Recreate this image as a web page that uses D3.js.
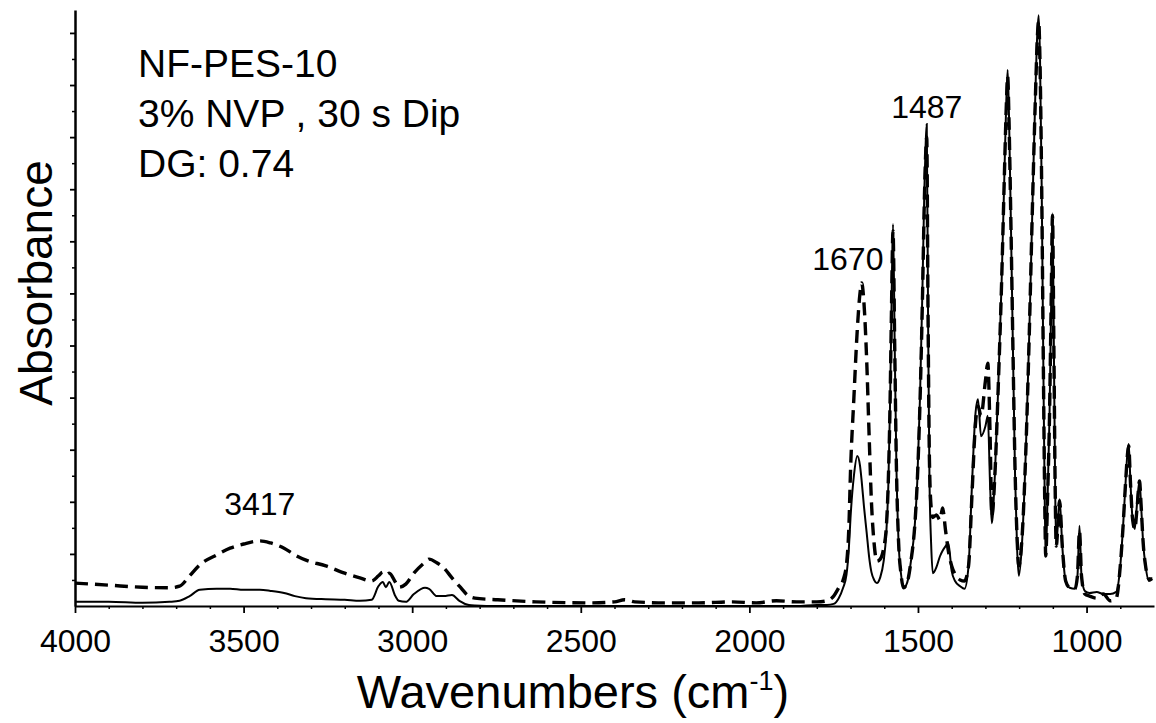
<!DOCTYPE html>
<html>
<head>
<meta charset="utf-8">
<script src="https://cdn.jsdelivr.net/npm/d3@7"></script>
<style>
  body { margin: 0; background: #fff; }
  svg { display: block; }
  text { font-family: "Liberation Sans", Arial, sans-serif; fill: #000; }
</style>
</head>
<body>
<script>
// wavenumbers (cm-1)
var wavenumbers = [
  4000, 3900, 3800, 3720, 3690, 3660, 3630, 3580, 3540, 3500,
  3452, 3420, 3380, 3348, 3315, 3256, 3200, 3155, 3120, 3100,
  3087, 3078, 3068, 3050, 3040, 3019, 2995, 2962, 2950, 2927,
  2906, 2882, 2860, 2832, 2814, 2746, 2633, 2473, 2400, 2370,
  2340, 2250, 2150, 2050, 1980, 1920, 1860, 1800, 1770, 1750,
  1735, 1722, 1712, 1705, 1700, 1690, 1680, 1672, 1667, 1660,
  1652, 1645, 1638, 1630, 1622, 1612, 1602, 1594, 1588, 1583,
  1579, 1574, 1569, 1564, 1558, 1550, 1543, 1532, 1520, 1510,
  1502, 1494, 1487, 1481, 1477, 1474, 1470, 1466, 1461, 1456,
  1445, 1435, 1427, 1418, 1410, 1400, 1390, 1375, 1362, 1350,
  1340, 1330, 1322, 1313, 1300, 1293, 1286, 1281, 1272, 1262,
  1252, 1244, 1238, 1234, 1230, 1224, 1218, 1212, 1206, 1201,
  1192, 1180, 1170, 1160, 1152, 1146, 1142, 1138, 1133, 1128,
  1124, 1121, 1116, 1110, 1105, 1101, 1097, 1093, 1090, 1080,
  1072, 1062, 1050, 1035, 1027, 1021, 1015, 1005, 991, 970,
  950, 930, 912, 900, 892, 884, 878, 875, 870, 864,
  857, 850, 843, 838, 832, 825, 815, 805
];

// solid line (unmodified PES)
var pesAbs = [
  0.008, 0.008, 0.006, 0.008, 0.010, 0.019, 0.031, 0.033, 0.033, 0.031,
  0.031, 0.029, 0.025, 0.019, 0.015, 0.013, 0.012, 0.010, 0.012, 0.038,
  0.046, 0.036, 0.046, 0.019, 0.010, 0.008, 0.023, 0.035, 0.033, 0.019,
  0.019, 0.021, 0.010, 0.002, 0.001, 0, 0, 0, 0, 0,
  0, 0, 0, 0, 0, 0, 0, 0.002, 0.002, 0.004,
  0.015, 0.035, 0.060, 0.110, 0.170, 0.250, 0.288, 0.270, 0.240, 0.190,
  0.140, 0.095, 0.065, 0.050, 0.044, 0.055, 0.085, 0.140, 0.230, 0.380,
  0.550, 0.733, 0.500, 0.270, 0.130, 0.060, 0.035, 0.045, 0.090, 0.150,
  0.240, 0.400, 0.600, 0.800, 0.890, 0.925, 0.550, 0.250, 0.120, 0.063,
  0.075, 0.095, 0.106, 0.115, 0.121, 0.067, 0.048, 0.038, 0.033, 0.077,
  0.230, 0.365, 0.397, 0.326, 0.345, 0.365, 0.230, 0.159, 0.250, 0.420,
  0.620, 0.820, 0.970, 1.029, 0.940, 0.720, 0.480, 0.250, 0.110, 0.058,
  0.115, 0.300, 0.520, 0.780, 0.980, 1.100, 1.134, 1.050, 0.800, 0.450,
  0.200, 0.096, 0.200, 0.360, 0.580, 0.754, 0.500, 0.220, 0.115, 0.205,
  0.115, 0.048, 0.035, 0.033, 0.058, 0.154, 0.058, 0.029, 0.025, 0.027,
  0.023, 0.023, 0.027, 0.077, 0.150, 0.240, 0.300, 0.311, 0.240, 0.170,
  0.148, 0.200, 0.240, 0.190, 0.120, 0.077, 0.048, 0.052
];

// dashed line (NVP grafted, DG 0.74)
var graftedAbs = [
  0.044, 0.040, 0.036, 0.035, 0.038, 0.058, 0.079, 0.098, 0.111, 0.119,
  0.125, 0.121, 0.111, 0.098, 0.088, 0.077, 0.063, 0.054, 0.048, 0.058,
  0.065, 0.060, 0.063, 0.046, 0.036, 0.042, 0.063, 0.084, 0.090, 0.083,
  0.073, 0.054, 0.038, 0.019, 0.015, 0.012, 0.008, 0.006, 0.008, 0.012,
  0.008, 0.006, 0.006, 0.008, 0.006, 0.010, 0.008, 0.008, 0.010, 0.019,
  0.035, 0.050, 0.080, 0.150, 0.260, 0.400, 0.530, 0.600, 0.620, 0.580,
  0.470, 0.330, 0.200, 0.120, 0.086, 0.090, 0.110, 0.150, 0.240, 0.380,
  0.550, 0.720, 0.500, 0.270, 0.130, 0.060, 0.035, 0.045, 0.090, 0.150,
  0.240, 0.390, 0.580, 0.780, 0.870, 0.900, 0.550, 0.280, 0.190, 0.170,
  0.175, 0.165, 0.188, 0.144, 0.106, 0.077, 0.061, 0.050, 0.048, 0.077,
  0.211, 0.345, 0.384, 0.365, 0.432, 0.466, 0.326, 0.173, 0.250, 0.420,
  0.620, 0.820, 0.960, 1.017, 0.930, 0.720, 0.480, 0.260, 0.130, 0.077,
  0.125, 0.300, 0.520, 0.780, 0.970, 1.090, 1.123, 1.040, 0.800, 0.450,
  0.200, 0.096, 0.200, 0.360, 0.580, 0.749, 0.500, 0.220, 0.115, 0.202,
  0.115, 0.048, 0.035, 0.033, 0.058, 0.144, 0.058, 0.023, 0.019, 0.015,
  0.023, 0.010, 0.015, 0.077, 0.150, 0.240, 0.295, 0.307, 0.240, 0.170,
  0.148, 0.190, 0.240, 0.190, 0.120, 0.077, 0.052, 0.052
];

var xTicks = [4000, 3500, 3000, 2500, 2000, 1500, 1000];
var infoLines = ["NF-PES-10", "3% NVP , 30 s Dip", "DG: 0.74"];
// label text, and where it sits (wavenumber, absorbance)
var peakLabels = [
  { text: "3417", wn: 3452, abs: 0.175 },
  { text: "1670", wn: 1708, abs: 0.645 },
  { text: "1487", wn: 1474, abs: 0.937 }
];

if (wavenumbers.length !== pesAbs.length || wavenumbers.length !== graftedAbs.length) {
  console.error("length mismatch", wavenumbers.length, pesAbs.length, graftedAbs.length);
}

var width = 1156, height = 723;

var svg = d3.select("body").append("svg")
  .attr("width", width)
  .attr("height", height);

var x = d3.scaleLinear().domain([4000, 800]).range([75, 1154]);
var y = d3.scaleLinear().domain([0, 1.144]).range([606, 10]);

// minor x ticks every 100 cm-1
var xMinor = d3.range(3900, 800, -100).filter(function (v) { return v % 500 !== 0; });
svg.append("g")
  .attr("transform", "translate(0," + y(0) + ")")
  .call(d3.axisBottom(x).tickValues(xMinor).tickSize(3).tickFormat(""))
  .call(function (g) { g.select(".domain").remove(); })
  .selectAll("line").attr("stroke-width", 1.5);

// major x axis
var xAxis = svg.append("g")
  .attr("transform", "translate(0," + y(0) + ")")
  .call(d3.axisBottom(x).tickValues(xTicks).tickSize(7).tickSizeOuter(0)
    .tickPadding(16).tickFormat(d3.format("d")));
xAxis.select(".domain").attr("stroke-width", 2.2);
xAxis.selectAll(".tick line").attr("stroke-width", 1.8);
xAxis.selectAll(".tick text").style("font-size", "32px");

// y axis: unlabeled ticks every 0.1, minor every 0.05
var yMajor = d3.range(0.1, 1.11, 0.1);
var yMinor = d3.range(0.05, 1.144, 0.1);
svg.append("g")
  .attr("transform", "translate(" + x(4000) + ",0)")
  .call(d3.axisLeft(y).tickValues(yMinor).tickSize(3).tickFormat(""))
  .call(function (g) { g.select(".domain").remove(); })
  .selectAll("line").attr("stroke-width", 1.5);

var yAxis = svg.append("g")
  .attr("transform", "translate(" + x(4000) + ",0)")
  .call(d3.axisLeft(y).tickValues(yMajor).tickSize(5).tickSizeOuter(0).tickFormat(""));
yAxis.select(".domain").attr("stroke-width", 2.5);
yAxis.selectAll(".tick line").attr("stroke-width", 1.8);

// spectra
var line = function (values) {
  return d3.line()
    .x(function (d, i) { return x(wavenumbers[i]); })
    .y(function (d) { return y(d); })
    .curve(d3.curveMonotoneX)(values);
};

svg.append("path")
  .attr("d", line(graftedAbs))
  .attr("fill", "none")
  .attr("stroke", "#000")
  .attr("stroke-width", 3.4)
  .attr("stroke-dasharray", "13,7");

svg.append("path")
  .attr("d", line(pesAbs))
  .attr("fill", "none")
  .attr("stroke", "#000")
  .attr("stroke-width", 2);

// sample info text
svg.selectAll(".info")
  .data(infoLines)
  .enter().append("text")
  .attr("class", "info")
  .attr("x", 138)
  .attr("y", function (d, i) { return 77 + i * 50; })
  .style("font-size", "39px")
  .text(function (d) { return d; });

// peak labels
svg.selectAll(".peak")
  .data(peakLabels)
  .enter().append("text")
  .attr("class", "peak")
  .attr("x", function (d) { return x(d.wn); })
  .attr("y", function (d) { return y(d.abs); })
  .attr("text-anchor", "middle")
  .style("font-size", "32px")
  .text(function (d) { return d.text; });

// axis titles
var xTitle = svg.append("text")
  .attr("x", 573)
  .attr("y", 708)
  .attr("text-anchor", "middle")
  .style("font-size", "47px");
xTitle.append("tspan").text("Wavenumbers (cm");
xTitle.append("tspan").attr("dy", -18).style("font-size", "27px").text("-1");
xTitle.append("tspan").attr("dy", 18).text(")");

svg.append("text")
  .attr("transform", "translate(52,283) rotate(-90)")
  .attr("text-anchor", "middle")
  .style("font-size", "46px")
  .text("Absorbance");
</script>
</body>
</html>
